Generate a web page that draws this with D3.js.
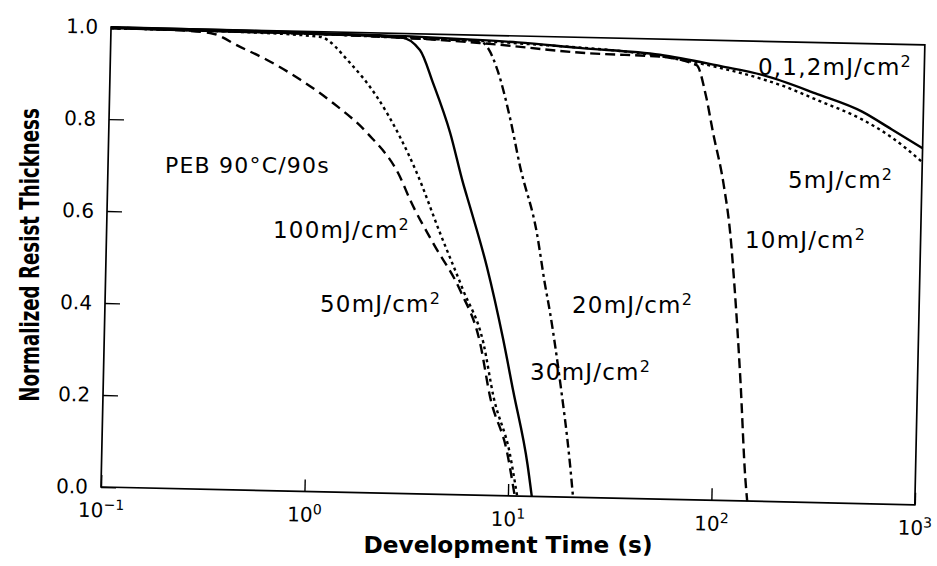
<!DOCTYPE html>
<html>
<head>
<meta charset="utf-8">
<script src="https://cdn.jsdelivr.net/npm/d3@7"></script>
<style>
  html, body { margin: 0; padding: 0; background: #fff; }
  svg { display: block; }
</style>
</head>
<body>
<script>
// ---------- data ----------
const xTicks = [0.1, 1, 10, 100, 1000];
const xTickBase = "10";
const xTickExponents = ["\u22121", "0", "1", "2", "3"];
const yTicks = [0, 0.2, 0.4, 0.6, 0.8, 1.0];

const xTitle = "Development Time (s)";
const yTitle = "Normalized Resist Thickness";
const conditionLabel = "PEB 90\u00B0C/90s";

// 0,1,2 mJ/cm2 (solid)
const t0 = [0.1, 0.3, 1, 3, 6, 10, 20, 50, 100, 160, 300, 500, 700, 1000];
const v0 = [1.0, 0.999, 0.997, 0.994, 0.99, 0.986, 0.977, 0.966, 0.944, 0.927, 0.888, 0.852, 0.815, 0.775];
// 5 mJ/cm2 (dotted)
const t5 = [0.1, 1, 10, 50, 100, 160, 200, 300, 500, 700, 1000];
const v5 = [0.998, 0.995, 0.984, 0.963, 0.94, 0.918, 0.905, 0.875, 0.835, 0.798, 0.745];
// 10 mJ/cm2 (dashed)
const t10 = [0.1, 1, 3, 6.5, 22, 50, 76, 85, 93, 106, 116, 123, 135, 146, 150];
const v10 = [0.998, 0.995, 0.99, 0.983, 0.966, 0.962, 0.945, 0.88, 0.80, 0.69, 0.58, 0.47, 0.26, 0.05, 0.0];
// 20 mJ/cm2 (dash-dot)
const t20 = [0.1, 1, 3, 6.5, 7.2, 8, 9.3, 10.6, 13, 14.4, 15.4, 17.5, 20, 20.9];
const v20 = [0.998, 0.995, 0.99, 0.987, 0.97, 0.925, 0.824, 0.715, 0.573, 0.464, 0.40, 0.254, 0.074, 0.0];
// 30 mJ/cm2 (solid)
const t30 = [0.1, 1, 2.63, 3.31, 3.87, 4.76, 5.57, 6.07, 7.45, 9.12, 10.35, 12.4, 13.1];
const v30 = [0.998, 0.995, 0.992, 0.965, 0.894, 0.786, 0.678, 0.626, 0.497, 0.34, 0.228, 0.068, 0.0];
// 50 mJ/cm2 (dotted)
const t50 = [0.1, 0.5, 1.06, 1.51, 2.06, 2.70, 3.30, 4.35, 5.73, 7.3, 8.3, 10.1, 11.1];
const v50 = [0.998, 0.995, 0.989, 0.933, 0.861, 0.775, 0.697, 0.568, 0.445, 0.331, 0.214, 0.093, 0.0];
// 100 mJ/cm2 (dashed)
const t100 = [0.1, 0.2, 0.307, 0.433, 0.589, 0.86, 1.26, 1.86, 2.73, 3.08, 4.03, 5.53, 7.03, 7.98, 9.82, 10.8];
const v100 = [0.999, 0.997, 0.992, 0.963, 0.936, 0.895, 0.845, 0.782, 0.688, 0.638, 0.546, 0.445, 0.331, 0.214, 0.093, 0.0];

const seriesNames = ["0,1,2", "5", "10", "20", "30", "50", "100"];
const seriesTimes = [t0, t5, t10, t20, t30, t50, t100];
const seriesValues = [v0, v5, v10, v20, v30, v50, v100];
const seriesDash = [null, "3,3.5", "10,5", "9,4,3,4", null, "3,3.5", "10,6"];

// label texts (number part) for each dose annotation
const doseLabels = ["0,1,2", "5", "10", "20", "30", "50", "100"];
const unitText = "mJ/cm";
const unitSup = "2";

// ---------- drawing ----------
const W = 937, H = 566;
const svg = d3.select("body").append("svg").attr("width", W).attr("height", H);
svg.append("rect").attr("width", W).attr("height", H).attr("fill", "#fff");

const L = 101, R = 915, T = 27, B = 487;
const x = d3.scaleLog().domain([0.1, 1000]).range([L, R]);
const y = d3.scaleLinear().domain([0, 1]).range([B, T]);

// scanned figure is slightly rotated
const g = svg.append("g").attr("transform", `rotate(1.25,${L},${B})`);

// frame
g.append("rect").attr("x", L).attr("y", T).attr("width", R - L).attr("height", B - T)
  .attr("fill", "none").attr("stroke", "#000").attr("stroke-width", 1.7);

// y axis
const yAx = g.append("g").attr("transform", `translate(${L},0)`)
  .call(d3.axisLeft(y).tickValues(yTicks).tickFormat(d3.format(".1f"))
    .tickSizeInner(-15).tickSizeOuter(0).tickPadding(13));
yAx.select(".domain").remove();
yAx.selectAll(".tick line").attr("stroke", "#000").attr("stroke-width", 1.4);
yAx.selectAll(".tick text").attr("fill", "#000")
  .style("font-family", "'DejaVu Sans', sans-serif").style("font-size", "20px");

// x axis
const xAx = g.append("g").attr("transform", `translate(0,${B})`)
  .call(d3.axisBottom(x).tickValues(xTicks).tickFormat(() => "")
    .tickSizeInner(-12).tickSizeOuter(0).tickPadding(16));
xAx.select(".domain").remove();
xAx.selectAll(".tick line").attr("stroke", "#000").attr("stroke-width", 1.4);
xAx.selectAll(".tick text").each(function(d, i) {
  const t = d3.select(this).text(null).attr("fill", "#000")
    .style("font-family", "'DejaVu Sans', sans-serif").style("font-size", "20px");
  t.append("tspan").text(xTickBase);
  t.append("tspan").attr("dy", "-0.55em").style("font-size", "14px").text(xTickExponents[i]);
});

// curves
const line = d3.line().x(d => x(d[0])).y(d => y(d[1])).curve(d3.curveMonotoneX);
seriesNames.forEach((name, i) => {
  const pts = seriesTimes[i].map((t, j) => [t, seriesValues[i][j]]);
  g.append("path").datum(pts).attr("d", line)
    .attr("fill", "none").attr("stroke", "#000").attr("stroke-width", 2.4)
    .attr("stroke-dasharray", seriesDash[i]).attr("stroke-linejoin", "round");
});

// axis titles
svg.append("text").attr("x", 508).attr("y", 553).attr("text-anchor", "middle")
  .attr("textLength", 289).attr("lengthAdjust", "spacingAndGlyphs")
  .style("font-family", "'DejaVu Sans', sans-serif").style("font-size", "23px")
  .style("font-weight", "bold").text(xTitle);

// y title: condensed by horizontal scaling of the rotated text
svg.append("text").attr("transform", "translate(39,255) rotate(-90) scale(0.7,1)")
  .attr("text-anchor", "middle")
  .style("font-family", "'DejaVu Sans', sans-serif").style("font-size", "26px")
  .style("font-weight", "bold").text(yTitle);

// annotations
svg.append("text").attr("x", 165).attr("y", 173)
  .style("font-family", "'DejaVu Sans', sans-serif").style("font-size", "22px")
  .style("letter-spacing", "1.2px").text(conditionLabel);

const labelPos = [[758, 75], [788, 188], [745, 248], [572, 313], [530, 380], [320, 312], [273, 238]];
doseLabels.forEach((lab, i) => {
  const t = svg.append("text").attr("x", labelPos[i][0]).attr("y", labelPos[i][1])
    .style("font-family", "'DejaVu Sans', sans-serif").style("font-size", "23px")
    .style("letter-spacing", "1.2px");
  t.append("tspan").text(lab + unitText);
  t.append("tspan").attr("dy", "-0.5em").style("font-size", "16px").text(unitSup);
});
</script>
</body>
</html>
